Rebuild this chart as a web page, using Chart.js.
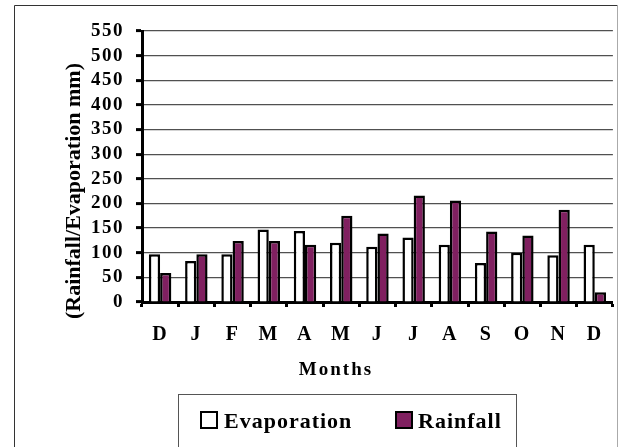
<!DOCTYPE html>
<html>
<head>
<meta charset="utf-8">
<script src="https://cdn.jsdelivr.net/npm/chart.js@4/dist/chart.umd.min.js"></script>
<style>
  body { margin: 0; background: #fff; }
  canvas { display: block; }
</style>
</head>
<body>
<canvas id="climateChart" width="618" height="447"></canvas>
<script>
// monthly totals, December to December
const months = ['D', 'J', 'F', 'M', 'A', 'M', 'J', 'J', 'A', 'S', 'O', 'N', 'D'];
const evaporation = [97, 83, 97, 147, 144, 120, 112, 131, 116, 79, 100, 95, 116];
const rainfall = [59, 97, 124, 124, 116, 175, 139, 216, 206, 143, 135, 187, 20];
const yMin = 0;
const yMax = 550;
const yStep = 50;

const serif = '"Liberation Serif", "Times New Roman", serif';

// frame, axis titles and the boxed legend
const decorPlugin = {
    id: 'decor',
    beforeDraw(chart) {
        chart.ctx.letterSpacing = '1.5px';
    },
    afterDraw(chart) {
        const ctx = chart.ctx;
        ctx.save();
        ctx.letterSpacing = '0px';

        // outer frame
        ctx.lineWidth = 1;
        ctx.strokeStyle = '#333';
        ctx.beginPath();
        ctx.moveTo(14.5, 460);
        ctx.lineTo(14.5, 5.5);
        ctx.lineTo(617.5, 5.5);
        ctx.stroke();
        ctx.strokeStyle = '#aaa';
        ctx.beginPath();
        ctx.moveTo(617.5, 5.5);
        ctx.lineTo(617.5, 460);
        ctx.stroke();

        // y axis title
        ctx.fillStyle = '#000';
        ctx.font = 'bold 22px ' + serif;
        ctx.textAlign = 'center';
        ctx.textBaseline = 'alphabetic';
        ctx.save();
        ctx.translate(80, 191);
        ctx.rotate(-Math.PI / 2);
        ctx.fillText('(Rainfall/Evaporation mm)', 0, 0);
        ctx.restore();

        // x axis title
        ctx.font = 'bold 19px ' + serif;
        ctx.letterSpacing = '2px';
        ctx.fillText('Months', 336, 375);

        // legend box
        ctx.letterSpacing = '1px';
        ctx.strokeStyle = '#555';
        ctx.lineWidth = 1;
        ctx.strokeRect(178.5, 394.5, 338, 80);
        const items = [
            { box: 201, text: 224 },
            { box: 396, text: 418 }
        ];
        ctx.font = 'bold 22px ' + serif;
        ctx.textAlign = 'left';
        chart.data.datasets.forEach((ds, i) => {
            const it = items[i];
            ctx.fillStyle = ds.backgroundColor;
            ctx.fillRect(it.box, 412, 16, 16);
            ctx.strokeStyle = '#000';
            ctx.lineWidth = 2;
            ctx.strokeRect(it.box, 412, 16, 16);
            ctx.fillStyle = '#000';
            ctx.fillText(ds.label, it.text, 428);
        });
        ctx.restore();
    }
};

new Chart(document.getElementById('climateChart'), {
    type: 'bar',
    data: {
        labels: months,
        datasets: [
            {
                label: 'Evaporation',
                data: evaporation,
                backgroundColor: '#ffffff',
                borderColor: '#000000',
                borderWidth: 2.5
            },
            {
                label: 'Rainfall',
                data: rainfall,
                backgroundColor: '#802060',
                borderColor: '#000000',
                borderWidth: 2.5
            }
        ]
    },
    options: {
        responsive: false,
        animation: false,
        layout: { padding: { top: 31, right: 0, bottom: 0, left: 0 } },
        datasets: {
            bar: { categoryPercentage: 0.62, barPercentage: 1.0 }
        },
        plugins: {
            legend: { display: false },
            tooltip: { enabled: false }
        },
        scales: {
            x: {
                offset: true,
                grid: {
                    offset: true,
                    drawOnChartArea: false,
                    tickLength: 5,
                    tickWidth: 3,
                    tickColor: '#000'
                },
                border: { color: '#000', width: 3 },
                ticks: {
                    color: '#000',
                    padding: 16,
                    maxRotation: 0,
                    autoSkip: false,
                    font: { family: serif, size: 20, weight: 'bold' }
                },
                afterFit(scale) { scale.height = 145; }
            },
            y: {
                min: yMin,
                max: yMax,
                grid: {
                    color: '#505050',
                    lineWidth: 1.2,
                    tickLength: 6,
                    tickWidth: 3,
                    tickColor: '#000'
                },
                border: { color: '#000', width: 3 },
                ticks: {
                    stepSize: yStep,
                    autoSkip: false,
                    color: '#000',
                    padding: 12,
                    font: { family: serif, size: 19, weight: 'bold' }
                },
                afterFit(scale) { scale.width = 142; }
            }
        }
    },
    plugins: [decorPlugin]
});
</script>
</body>
</html>
